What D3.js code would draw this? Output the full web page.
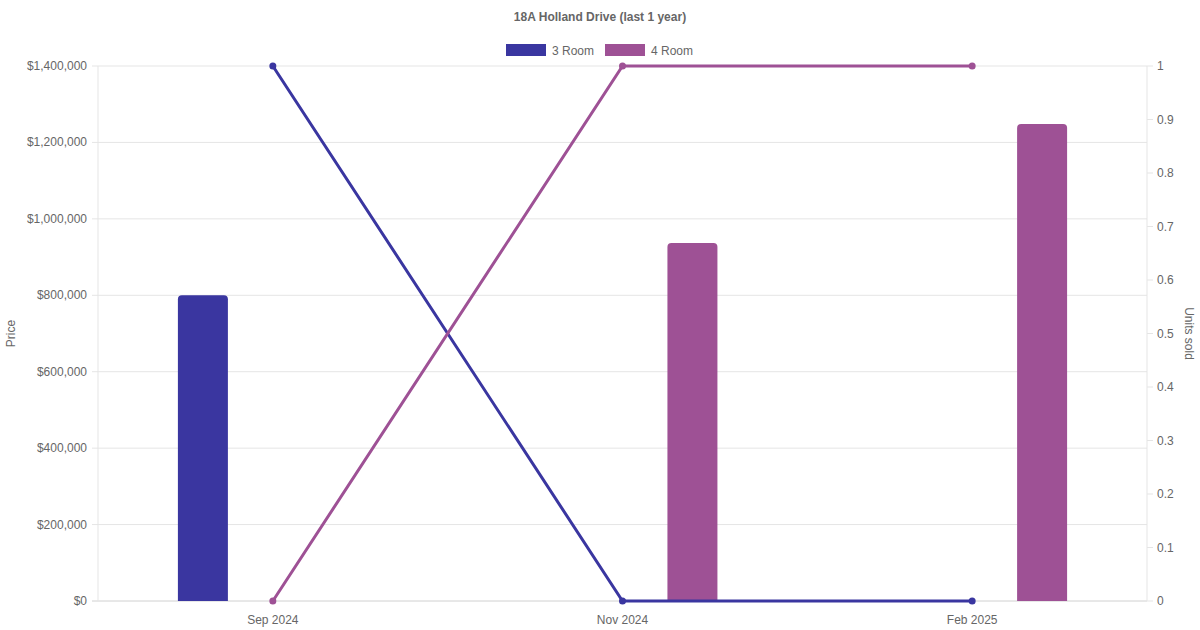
<!DOCTYPE html>
<html><head><meta charset="utf-8">
<script src="https://cdn.jsdelivr.net/npm/d3@7"></script>
<style>body{margin:0;background:#fff}svg{display:block}text{font-family:"Liberation Sans",Arial,Helvetica,sans-serif}</style>
</head><body><svg id="c" width="1200" height="630"></svg>
<script>
const title = "18A Holland Drive (last 1 year)";
const categories = ["Sep 2024", "Nov 2024", "Feb 2025"];
const seriesNames = ["3 Room", "4 Room"];
const seriesColors = ["#3a36a0", "#9e5195"];
const price3Room = [800000, null, null];
const price4Room = [null, 937000, 1248000];
const units3Room = [1, 0, 0];
const units4Room = [0, 1, 1];
const priceTicks = [0, 200000, 400000, 600000, 800000, 1000000, 1200000, 1400000];
const unitTicks = [0, 0.1, 0.2, 0.3, 0.4, 0.5, 0.6, 0.7, 0.8, 0.9, 1];

const svg = d3.select("#c");
const L = 98, R = 1147, T = 66, B = 601;
const x = d3.scaleBand().domain(categories).range([L, R]);
const yP = d3.scaleLinear().domain([0, 1400000]).range([B, T]);
const yU = d3.scaleLinear().domain([0, 1]).range([B, T]);
const grid = "#e5e5e5", tc = "#666";

// title
svg.append("text").attr("x", 600).attr("y", 21).attr("text-anchor", "middle")
  .attr("font-size", 12).attr("font-weight", "bold").attr("fill", tc).text(title);

// legend
const legX = [506, 605];
seriesNames.forEach((n, i) => {
  svg.append("rect").attr("x", legX[i]).attr("y", 44).attr("width", 40).attr("height", 12).attr("fill", seriesColors[i]);
  svg.append("text").attr("x", legX[i] + 46).attr("y", 54.5).attr("font-size", 12).attr("fill", tc).text(n);
});

// gridlines
const g = svg.append("g");
priceTicks.forEach(t => {
  g.append("line").attr("x1", L - 6).attr("x2", R).attr("y1", yP(t)).attr("y2", yP(t)).attr("stroke", t === 0 ? "#d0d0d0" : grid);
  g.append("text").attr("x", L - 11).attr("y", yP(t) + 4).attr("text-anchor", "end").attr("font-size", 12).attr("fill", tc)
    .text("$" + d3.format(",")(t));
});
unitTicks.forEach(t => {
  g.append("line").attr("x1", R).attr("x2", R + 6).attr("y1", yU(t)).attr("y2", yU(t)).attr("stroke", grid);
  g.append("text").attr("x", R + 10).attr("y", yU(t) + 4).attr("font-size", 12).attr("fill", tc).text(d3.format("")(t));
});
g.append("line").attr("x1", L).attr("x2", L).attr("y1", T).attr("y2", B).attr("stroke", grid);
g.append("line").attr("x1", R).attr("x2", R).attr("y1", T).attr("y2", B).attr("stroke", grid);
categories.forEach(c => {
  g.append("text").attr("x", x(c) + x.bandwidth() / 2).attr("y", 624).attr("text-anchor", "middle")
    .attr("font-size", 12).attr("fill", tc).text(c);
});

// axis titles
svg.append("text").attr("transform", "translate(15," + ((T + B) / 2) + ") rotate(-90)").attr("text-anchor", "middle")
  .attr("font-size", 12).attr("fill", tc).text("Price");
svg.append("text").attr("transform", "translate(1185," + ((T + B) / 2) + ") rotate(90)").attr("text-anchor", "middle")
  .attr("font-size", 12).attr("fill", tc).text("Units sold");

// bars
const inner = d3.scaleBand().domain([0, 1]).range([0, x.bandwidth() * 0.8]);
const barW = 50, rad = 4;
function barPath(x0, y0, w, h) {
  const r = Math.min(rad, h);
  return `M${x0},${y0 + h}V${y0 + r}Q${x0},${y0} ${x0 + r},${y0}H${x0 + w - r}Q${x0 + w},${y0} ${x0 + w},${y0 + r}V${y0 + h}Z`;
}
[price3Room, price4Room].forEach((arr, si) => {
  arr.forEach((v, i) => {
    if (v == null) return;
    const cx = x(categories[i]) + x.bandwidth() * 0.1 + inner(si) + inner.bandwidth() / 2;
    svg.append("path").attr("d", barPath(cx - barW / 2, yP(v), barW, yP(0) - yP(v))).attr("fill", seriesColors[si]);
  });
});

// lines
const line = d3.line().x((d, i) => x(categories[i]) + x.bandwidth() / 2).y(d => yU(d));
[units3Room, units4Room].forEach((arr, si) => {
  svg.append("path").attr("d", line(arr)).attr("fill", "none").attr("stroke", seriesColors[si]).attr("stroke-width", 3);
  arr.forEach((v, i) => {
    svg.append("circle").attr("cx", x(categories[i]) + x.bandwidth() / 2).attr("cy", yU(v)).attr("r", 3.5).attr("fill", seriesColors[si]);
  });
});
</script></body></html>
